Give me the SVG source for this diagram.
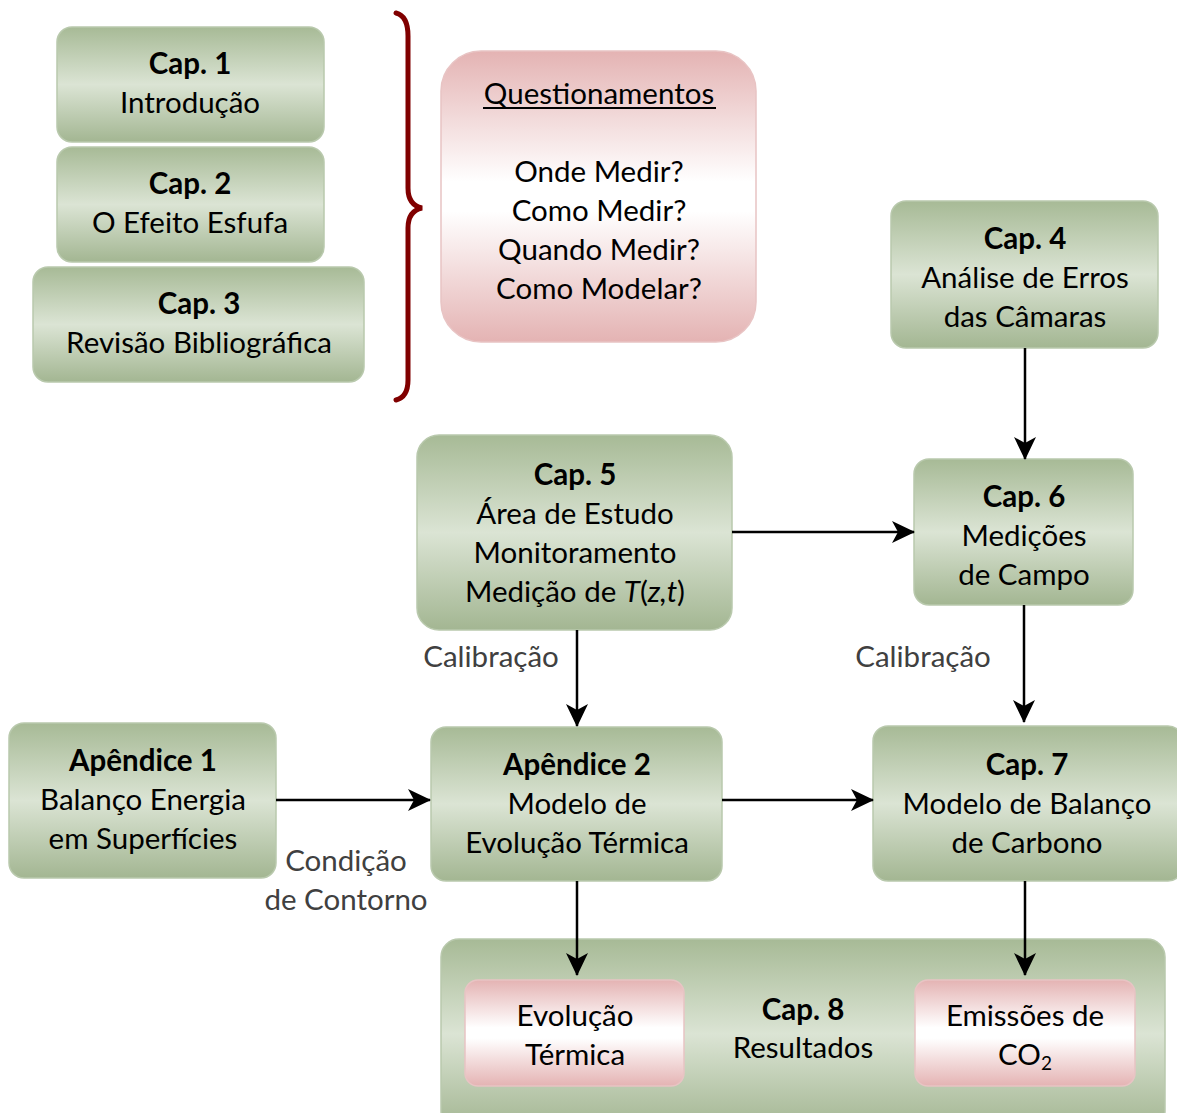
<svg xmlns="http://www.w3.org/2000/svg" width="1177" height="1113" viewBox="0 0 1177 1113">
  <defs>
    <linearGradient id="green" x1="0" y1="0" x2="0" y2="1">
      <stop offset="0" stop-color="#a7ba96"/>
      <stop offset="0.5" stop-color="#dbe4d4"/>
      <stop offset="1" stop-color="#a3b692"/>
    </linearGradient>
    <linearGradient id="pink" x1="0" y1="0" x2="0" y2="1">
      <stop offset="0" stop-color="#e4b3b3"/>
      <stop offset="0.45" stop-color="#ffffff"/>
      <stop offset="0.55" stop-color="#ffffff"/>
      <stop offset="1" stop-color="#e4b3b3"/>
    </linearGradient>
    <marker id="arrow" viewBox="0 0 24 24" refX="22" refY="12" markerWidth="24" markerHeight="24" markerUnits="userSpaceOnUse" orient="auto">
      <path d="M0,1 L23,12 L0,23 L6,12 z" fill="#000"/>
    </marker>
    <style>
      text { font-family: Lato, "Liberation Sans", sans-serif; font-size: 29.5px; fill: #000; text-anchor: middle; }
      .b { font-weight: bold; }
      .lbl { fill: #404040; }
      .g { fill: url(#green); stroke: #b9c9ad; stroke-width: 1.5; }
      .p { fill: url(#pink); stroke: #e8c4c4; stroke-width: 1.5; }
      .c { fill: none; stroke: #000; stroke-width: 2.5; marker-end: url(#arrow); }
    </style>
  </defs>
  <rect width="1177" height="1113" fill="#fff"/>

  <g id="cap1">
    <rect class="g" x="57" y="27" width="267" height="115" rx="15"/>
    <text x="190" y="74" class="b">Cap. 1</text>
    <text x="190" y="113">Introdução</text>
  </g>
  <g id="cap2">
    <rect class="g" x="57" y="147" width="267" height="115" rx="15"/>
    <text x="190" y="194" class="b">Cap. 2</text>
    <text x="190" y="233">O Efeito Esfufa</text>
  </g>
  <g id="cap3">
    <rect class="g" x="33" y="267" width="331" height="115" rx="15"/>
    <text x="199" y="314" class="b">Cap. 3</text>
    <text x="199" y="353">Revisão Bibliográfica</text>
  </g>

  <!-- curly brace grouping chapters 1 to 3 -->
  <path id="brace" d="M396,13 Q408,16 408,36 L408,188 Q408,205 422,208 Q408,211 408,228 L408,380 Q408,397 396,400" fill="none" stroke="#800000" stroke-width="5" stroke-linecap="round"/>

  <g id="questionamentos">
    <rect class="p" x="441" y="51" width="315" height="291" rx="40"/>
    <text x="599" y="104">Questionamentos</text>
    <line x1="483" y1="108" x2="716" y2="108" stroke="#000" stroke-width="2"/>
    <text x="599" y="182">Onde Medir?</text>
    <text x="599" y="221">Como Medir?</text>
    <text x="599" y="260">Quando Medir?</text>
    <text x="599" y="299">Como Modelar?</text>
  </g>

  <g id="cap4">
    <rect class="g" x="891" y="201" width="267" height="147" rx="15"/>
    <text x="1025" y="249" class="b">Cap. 4</text>
    <text x="1025" y="288">Análise de Erros</text>
    <text x="1025" y="327">das Câmaras</text>
  </g>
  <g id="cap5">
    <rect class="g" x="417" y="435" width="315" height="195" rx="22"/>
    <text x="575" y="485" class="b">Cap. 5</text>
    <text x="575" y="524">Área de Estudo</text>
    <text x="575" y="563">Monitoramento</text>
    <text x="575" y="602">Medição de <tspan font-style="italic">T</tspan>(<tspan font-style="italic">z,t</tspan>)</text>
  </g>
  <g id="cap6">
    <rect class="g" x="914" y="459" width="219" height="146" rx="15"/>
    <text x="1024" y="507" class="b">Cap. 6</text>
    <text x="1024" y="546">Medições</text>
    <text x="1024" y="585">de Campo</text>
  </g>
  <g id="apendice1">
    <rect class="g" x="9" y="723" width="267" height="155" rx="15"/>
    <text x="143" y="771" class="b">Apêndice 1</text>
    <text x="143" y="810">Balanço Energia</text>
    <text x="143" y="849">em Superfícies</text>
  </g>
  <g id="apendice2">
    <rect class="g" x="431" y="727" width="291" height="154" rx="15"/>
    <text x="577" y="775" class="b">Apêndice 2</text>
    <text x="577" y="814">Modelo de</text>
    <text x="577" y="853">Evolução Térmica</text>
  </g>
  <g id="cap7">
    <rect class="g" x="873" y="726" width="310" height="155" rx="15"/>
    <text x="1027" y="775" class="b">Cap. 7</text>
    <text x="1027" y="814">Modelo de Balanço</text>
    <text x="1027" y="853">de Carbono</text>
  </g>
  <g id="cap8">
    <rect class="g" x="441" y="939" width="724" height="190" rx="18"/>
    <text x="803" y="1020" class="b">Cap. 8</text>
    <text x="803" y="1058">Resultados</text>
  </g>
  <g id="evolucao">
    <rect class="p" x="465" y="980" width="219" height="106" rx="13"/>
    <text x="575" y="1026">Evolução</text>
    <text x="575" y="1065">Térmica</text>
  </g>
  <g id="emissoes">
    <rect class="p" x="915" y="980" width="220" height="106" rx="13"/>
    <text x="1025" y="1026">Emissões de</text>
    <text x="1025" y="1065">CO<tspan font-size="19" dy="5">2</tspan></text>
  </g>

  <g id="connectors">
    <line class="c" x1="1025" y1="348" x2="1025" y2="459"/>
    <line class="c" x1="732" y1="532" x2="914" y2="532"/>
    <line class="c" x1="577" y1="630" x2="577" y2="726"/>
    <line class="c" x1="1024" y1="605" x2="1024" y2="722"/>
    <line class="c" x1="276" y1="800" x2="430" y2="800"/>
    <line class="c" x1="722" y1="800" x2="873" y2="800"/>
    <line class="c" x1="577" y1="881" x2="577" y2="975"/>
    <line class="c" x1="1025" y1="881" x2="1025" y2="975"/>
    <text class="lbl" x="491" y="667">Calibração</text>
    <text class="lbl" x="923" y="667">Calibração</text>
    <text class="lbl" x="346" y="871">Condição</text>
    <text class="lbl" x="346" y="910">de Contorno</text>
  </g>
</svg>
